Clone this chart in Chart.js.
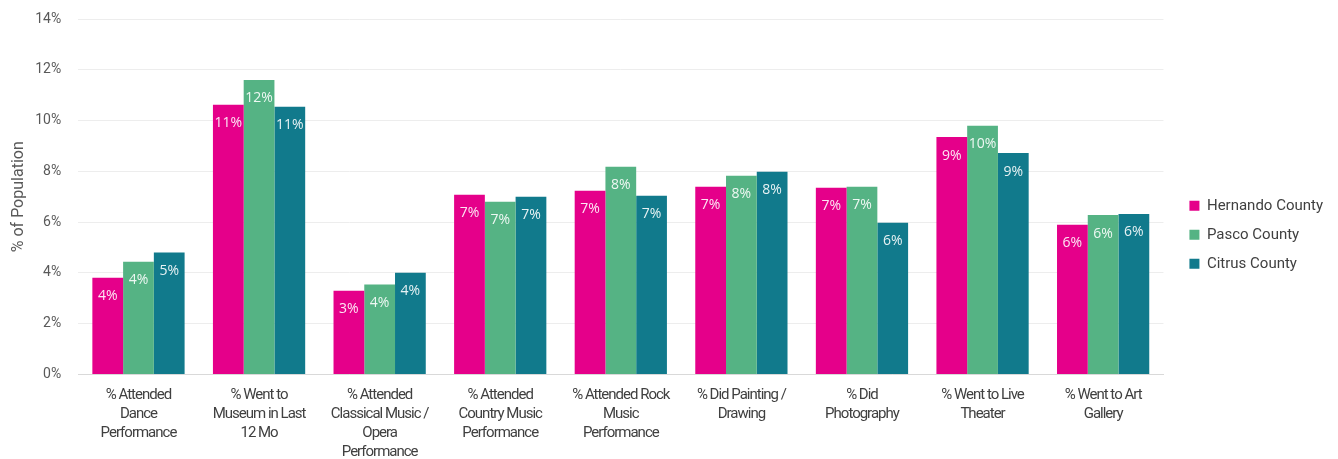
<!DOCTYPE html>
<html>
<head>
<meta charset="utf-8">
<script src="https://cdn.jsdelivr.net/npm/chart.js@4/dist/chart.umd.min.js"></script>
<style>
html,body{margin:0;padding:0;background:#fff;}
#wrap{width:1338px;height:459px;position:relative;}
</style>
</head>
<body>
<div id="wrap"><canvas id="c" width="1338" height="459"></canvas></div>
<script>
const categories = [
  "% Attended Dance Performance",
  "% Went to Museum in Last 12 Mo",
  "% Attended Classical Music / Opera Performance",
  "% Attended Country Music Performance",
  "% Attended Rock Music Performance",
  "% Did Painting / Drawing",
  "% Did Photography",
  "% Went to Live Theater",
  "% Went to Art Gallery"
];
const tickLabels = [
  ["% Attended","Dance","Performance"],
  ["% Went to","Museum in Last","12 Mo"],
  ["% Attended","Classical Music /","Opera","Performance"],
  ["% Attended","Country Music","Performance"],
  ["% Attended Rock","Music","Performance"],
  ["% Did Painting /","Drawing"],
  ["% Did","Photography"],
  ["% Went to Live","Theater"],
  ["% Went to Art","Gallery"]
];
const seriesNames = ["Hernando County","Pasco County","Citrus County"];
const hernando = [3.81, 10.62, 3.30, 7.08, 7.24, 7.39, 7.35, 9.35, 5.90];
const pasco    = [4.44, 11.60, 3.54, 6.80, 8.18, 7.83, 7.39, 9.80, 6.28];
const citrus   = [4.80, 10.54, 4.01, 7.00, 7.04, 7.98, 5.98, 8.72, 6.32];
const yTicks = [0,2,4,6,8,10,12,14];

const colors = ["#E5008A","#55B384","#117A8C"];

const barLabels = {
  id:'barLabels',
  afterDatasetsDraw(chart){
    const ctx = chart.ctx;
    ctx.save();
    ctx.font = '14px "Open Sans", "Noto Sans", sans-serif';
    ctx.fillStyle = 'rgba(255,255,255,0.9)';
    ctx.textAlign = 'center';
    ctx.textBaseline = 'middle';
    chart.data.datasets.forEach((ds,i)=>{
      const meta = chart.getDatasetMeta(i);
      meta.data.forEach((bar,j)=>{
        ctx.fillText(Math.round(ds.data[j]) + '%', bar.x, bar.y + 18.5);
      });
    });
    ctx.restore();
  }
};

const LEGEND_GAP = 12;
const LEGEND_SHIFT_UP = 11;
const tweaks = {
  id:'tweaks',
  afterInit(chart){
    const lg = chart.legend;
    if (lg && !lg._patched){
      const f = lg.fit.bind(lg);
      lg.fit = function(){ f(); if (this.width) this.width += LEGEND_GAP; };
      lg._patched = true;
    }
  },
  afterLayout(chart){
    const lg = chart.legend;
    if (lg){
      lg.left += LEGEND_GAP; lg.right += LEGEND_GAP;
      lg.top -= LEGEND_SHIFT_UP; lg.bottom -= LEGEND_SHIFT_UP;
    }
    const xs = chart.scales.x;
    if (xs && !xs._patched){
      const orig = xs.drawLabels.bind(xs);
      xs.drawLabels = function(a){
        const c = this.ctx;
        const prev = c.letterSpacing;
        c.letterSpacing = '-1px';
        orig(a);
        c.letterSpacing = prev || '0px';
      };
      xs._patched = true;
    }
  }
};

new Chart(document.getElementById('c'), {
  type:'bar',
  data:{
    labels: tickLabels,
    datasets:[
      {label:seriesNames[0], data:hernando, backgroundColor:colors[0]},
      {label:seriesNames[1], data:pasco, backgroundColor:colors[1]},
      {label:seriesNames[2], data:citrus, backgroundColor:colors[2]}
    ]
  },
  options:{
    responsive:false,
    animation:false,
    devicePixelRatio:1,
    layout:{padding:{left:9,right:5,top:19,bottom:-13.5}},
    datasets:{bar:{barPercentage:1.0, categoryPercentage:0.765}},
    plugins:{
      legend:{
        position:'right',
        align:'center',
        labels:{
          boxWidth:10, boxHeight:10, padding:14,
          color:'#404040',
          font:{family:'Roboto', size:15}
        }
      },
      tooltip:{enabled:false}
    },
    scales:{
      x:{
        grid:{display:false, drawTicks:false},
        border:{display:true, color:'#D9D9D9'},
        ticks:{
          autoSkip:false, maxRotation:0, minRotation:0, padding:11,
          color:'#404040',
          font:{family:'Roboto', size:15, lineHeight:1.267}
        }
      },
      y:{
        min:0, max:14,
        afterBuildTicks(axis){ axis.ticks = yTicks.map(v=>({value:v})); },
        afterFit(axis){ axis.paddingTop = 0; axis.paddingBottom = 0; },
        grid:{color:'#EDEDED', drawTicks:false},
        border:{display:false},
        ticks:{
          padding:17,
          color:'#595959',
          font:{family:'Roboto', size:14},
          callback:(v)=>v+'%'
        },
        title:{
          display:true, text:'% of Population', color:'#595959',
          font:{family:'Roboto', size:16}, padding:{top:0,bottom:-10}
        }
      }
    }
  },
  plugins:[barLabels, tweaks]
});
</script>
</body>
</html>
